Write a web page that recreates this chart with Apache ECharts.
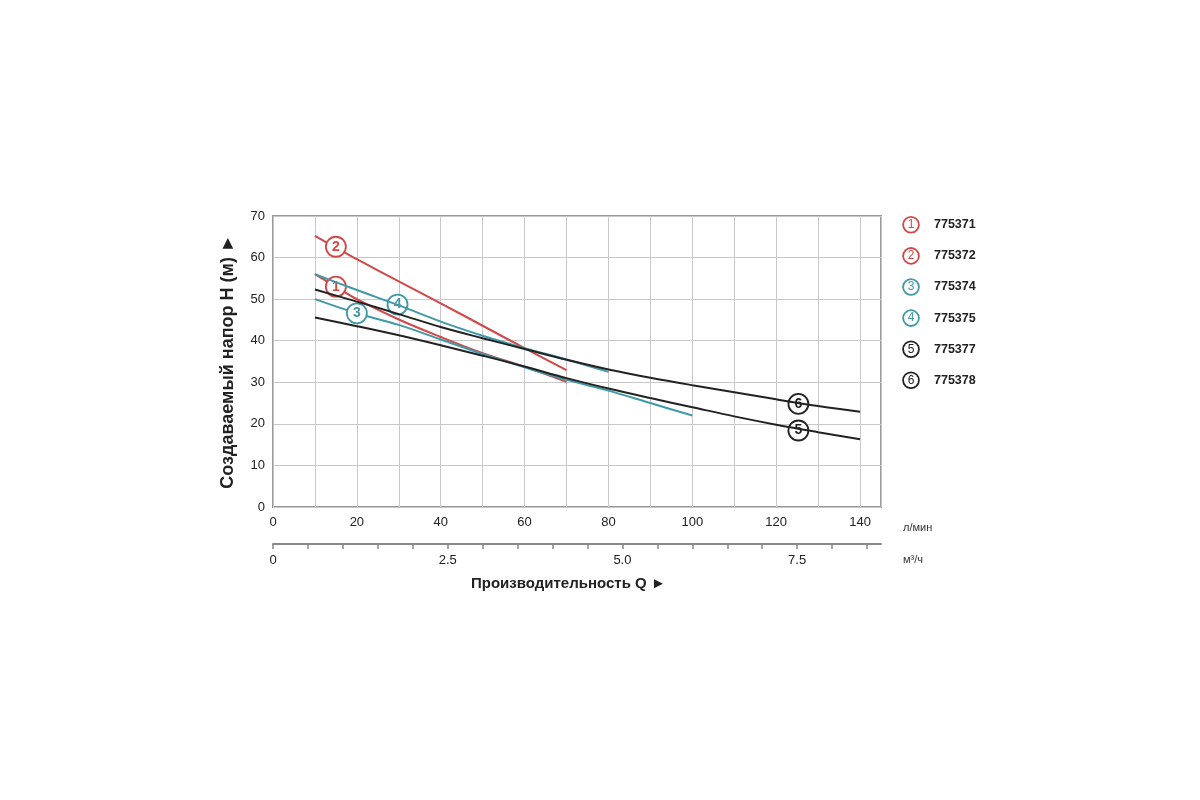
<!DOCTYPE html>
<html><head><meta charset="utf-8">
<script src="https://cdn.jsdelivr.net/npm/echarts@6/dist/echarts.min.js"></script>
<style>html,body{margin:0;padding:0;background:#fff}#c{width:1200px;height:800px}</style>
</head><body><div id="c"></div>
<script>
// Pump codes (legend)
const codes = ['775371','775372','775374','775375','775377','775378'];
// Flow Q (l/min) vs head H (m)
const curve1 = [[10,56],[15,53],[20,50],[30,45.1],[40,40.9],[50,37],[60,33.7],[70,30.1]];
const curve2 = [[10,65.2],[15,62.4],[20,59.6],[30,54.3],[40,49],[50,43.6],[60,38.2],[70,32.9]];
const curve3 = [[10,50],[20,46.6],[30,43.8],[40,40.3],[50,36.8],[60,33.6],[70,30.6],[80,28],[90,25],[100,22]];
const curve4 = [[10,56],[20,52.2],[30,48.5],[40,44.6],[50,41.2],[60,38.2],[70,35.5],[80,32.5]];
const curve5 = [[10,45.6],[20,43.5],[30,41.3],[40,38.9],[50,36.4],[60,33.8],[70,31],[80,28.5],[90,26.2],[100,24],[110,21.8],[120,19.8],[130,18],[140,16.3]];
const curve6 = [[10,52.3],[20,49.4],[30,46.4],[40,43.3],[50,40.6],[60,38],[70,35.4],[80,33.1],[90,31.1],[100,29.3],[110,27.6],[120,25.9],[130,24.3],[140,22.9]];
// circled curve-number label positions [Q, H]
const labelPts = [[15,53],[15,62.6],[20,46.6],[29.7,48.7],[125.3,18.4],[125.3,24.8]];
// axis ticks
const xLabels = [0,20,40,60,80,100,120,140];
const m3Labels = [0,2.5,5,7.5];

const curves = [curve1,curve2,curve3,curve4,curve5,curve6];
const RED='#d24848', TEAL='#3f99a6', BLK='#222222';
const colors=[RED,RED,TEAL,TEAL,BLK,BLK];
const FONT='"Liberation Sans", Arial, sans-serif';

const rich = {t:{fontSize:12.5,fontWeight:'bold',color:'#222',fontFamily:FONT,padding:[0,0,0,16]}};
colors.forEach((c,i)=>{
  rich['c'+i]={width:14,height:14,lineHeight:15,borderRadius:9,borderWidth:1.8,borderColor:c,color:c,
    align:'center',fontSize:12,fontFamily:FONT,backgroundColor:'#fff'};
});

const series = curves.map((d,i)=>({
  name: codes[i], type:'line', data:d, smooth:0.35, showSymbol:false, symbol:'none',
  lineStyle:{color:colors[i],width:2}, itemStyle:{color:colors[i]},
  z: 2+i,
  markPoint:{
    symbol:'circle', symbolSize:20, silent:true,
    itemStyle:{color:'#fff',borderColor:colors[i],borderWidth:1.8},
    label:{show:true,formatter:String(i+1),color:colors[i],fontSize:14,fontWeight:'bold',fontFamily:FONT},
    data:[{coord:labelPts[i]}]
  }
}));

const chart = echarts.init(document.getElementById('c'));
chart.setOption({
  animation:false,
  backgroundColor:'#fff',
  textStyle:{fontFamily:FONT},
  title:{text:'Производительность Q ►',left:466,top:571,
    textStyle:{fontSize:15,fontWeight:'bold',color:'#222',fontFamily:FONT}},
  legend:{orient:'vertical',left:894,top:211,itemGap:13.5,itemWidth:0,itemHeight:0,icon:'circle',
    selectedMode:false,
    formatter:(name)=>{const i=codes.indexOf(name);return '{c'+i+'|'+(i+1)+'}{t|'+name+'}';},
    textStyle:{rich:rich},
    data:codes},
  grid:{left:273,right:319,top:216,bottom:293,show:true,borderColor:'#999',borderWidth:2,containLabel:false},
  xAxis:[{
    type:'value',min:0,max:145,interval:10,
    axisLine:{show:false},axisTick:{show:false},
    splitLine:{show:true,lineStyle:{color:'#c8c8c8',width:1}},
    axisLabel:{margin:9,fontSize:13,color:'#222',fontFamily:FONT,
      formatter:(v)=>xLabels.indexOf(v)>=0?String(v):''},
    name:'л/мин',nameLocation:'end',nameGap:22,
    nameTextStyle:{fontSize:11,color:'#333',verticalAlign:'top',padding:[15,0,0,0],fontFamily:FONT}
  },{
    type:'value',min:0,max:8.7,interval:0.5,position:'bottom',offset:37,
    axisLine:{show:true,lineStyle:{color:'#888',width:2}},
    axisTick:{show:true,length:5,lineStyle:{color:'#888',width:1.5}},
    splitLine:{show:false},
    axisLabel:{margin:10,fontSize:13,color:'#222',fontFamily:FONT,showMaxLabel:false,
      formatter:(v)=>{const k=m3Labels.indexOf(v);return k<0?'':(v===0?'0':v.toFixed(1));}},
    name:'м³/ч',nameLocation:'end',nameGap:22,
    nameTextStyle:{fontSize:11,color:'#333',verticalAlign:'top',padding:[10,0,0,0],fontFamily:FONT}
  }],
  yAxis:{
    type:'value',min:0,max:70,interval:10,
    axisLine:{show:false},axisTick:{show:false},
    splitLine:{show:true,lineStyle:{color:'#c8c8c8',width:1}},
    axisLabel:{margin:8,fontSize:13,color:'#222',fontFamily:FONT},
    name:'Создаваемый напор H (м) ►',nameLocation:'middle',nameGap:36,
    nameTextStyle:{fontSize:18,fontWeight:'bold',color:'#222',fontFamily:FONT}
  },
  series:series
});
</script></body></html>
